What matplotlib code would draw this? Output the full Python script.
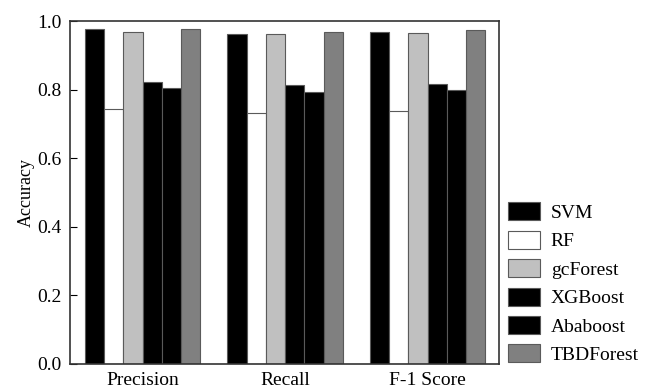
import numpy as np
import matplotlib
matplotlib.use('Agg')
import matplotlib.pyplot as plt

plt.rcParams['font.family'] = ['Liberation Serif', 'DejaVu Serif']

metrics = ['Precision', 'Recall', 'F-1 Score']
models = ['SVM', 'RF', 'gcForest', 'XGBoost', 'Ababoost', 'TBDForest']
svm = [0.976, 0.963, 0.968]
rf = [0.742, 0.733, 0.738]
gcforest = [0.968, 0.962, 0.964]
xgboost = [0.821, 0.814, 0.817]
ababoost = [0.804, 0.793, 0.800]
tbdforest = [0.978, 0.968, 0.974]
series = [svm, rf, gcforest, xgboost, ababoost, tbdforest]
colors = ['#000000', '#ffffff', '#c0c0c0', '#000000', '#000000', '#808080']

fig = plt.figure(figsize=(6.49, 3.89), dpi=100)
ax = fig.add_axes([70 / 649, 1 - 364 / 389, 429 / 649, 343 / 389])

x = np.arange(len(metrics))
w = 0.135
for i, (vals, c) in enumerate(zip(series, colors)):
    ax.bar(x + (i - 2.5) * w, vals, w, color=c, edgecolor='#5a5a5a',
           linewidth=0.8, label=models[i])

ax.set_xlim(-0.51, 2.502)
ax.set_ylim(0, 1.0)
ax.set_yticks([0, 0.2, 0.4, 0.6, 0.8, 1.0])
ax.set_yticklabels(['0.0', '0.2', '0.4', '0.6', '0.8', '1.0'])
ax.set_xticks(x)
ax.set_xticklabels(metrics)
ax.tick_params(axis='y', direction='in', length=5, labelsize=14, pad=6)
ax.tick_params(axis='x', length=0, labelsize=14, pad=6)
ax.set_ylabel('Accuracy', fontsize=13, labelpad=2)
for s in ax.spines.values():
    s.set_linewidth(1.2)
    s.set_color('#333333')

ax.legend(loc='lower left', bbox_to_anchor=(508 / 649, 1 - 364 / 389),
          bbox_transform=fig.transFigure, frameon=False, fontsize=14,
          handlelength=1.65, handleheight=1.05, labelspacing=0.45,
          handletextpad=0.55, borderpad=0, borderaxespad=0)

fig.savefig('out.png', dpi=100)
